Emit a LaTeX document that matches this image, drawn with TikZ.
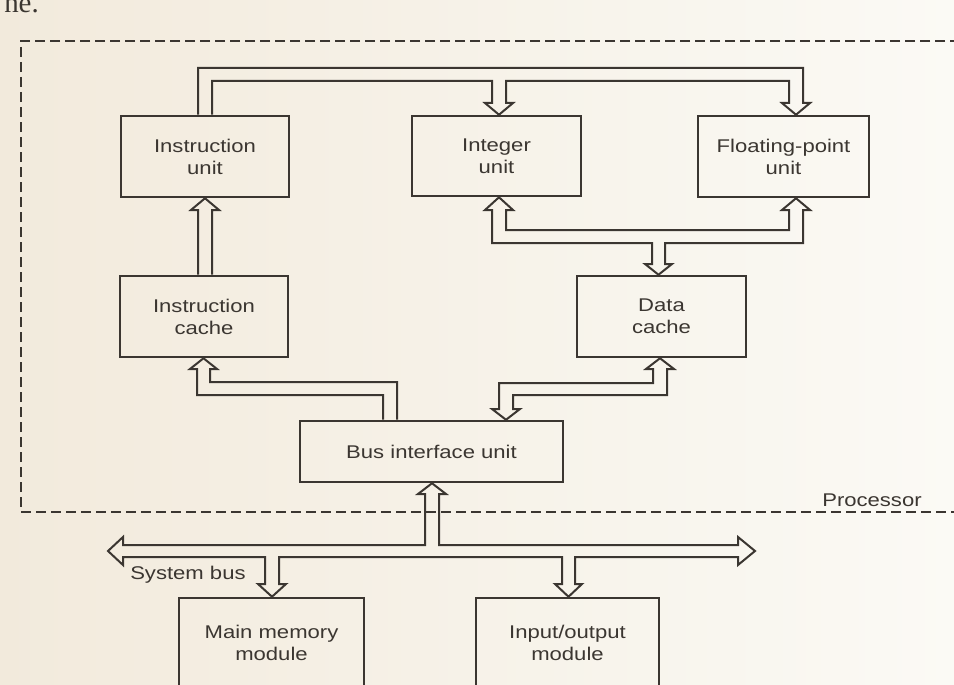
\documentclass[tikz,border=0pt]{standalone}
\usepackage{fontspec}
\setmainfont{Liberation Sans}
\newfontfamily\boxfont[FakeStretch=1.2]{Liberation Sans}
\newfontfamily\pageserif{Liberation Serif}
\usetikzlibrary{calc}
\definecolor{ink}{HTML}{3B3631}
\definecolor{paperL}{HTML}{F2EADC}
\definecolor{paperR}{HTML}{FBFAF5}
\begin{document}
\begin{tikzpicture}[x=0.75pt,y=-0.75pt,
  box/.style={draw=ink, line width=1.9pt, inner sep=0pt, align=center, text=ink,
              font=\boxfont\fontsize{13.8}{16.5}\selectfont},
  pipe/.style={draw=ink, line width=1.5pt, line join=miter},
  frame/.style={draw=ink, line width=1.5pt, dash pattern=on 7.5pt off 3.75pt},
  lbl/.style={text=ink, inner sep=0pt, font=\boxfont\fontsize{13.8}{16.5}\selectfont}]
\useasboundingbox (0,0) rectangle (954,685);
\clip (0,0) rectangle (954,685);
\shade[left color=paperL, right color=paperR] (0,0) rectangle (954,685);

% end of the preceding line of text on the page
\node[anchor=base west, inner sep=0pt, text=ink, font=\pageserif\fontsize{21.7}{21.7}\selectfont] (pagetext) at (4,13) {ne.};

% processor boundary
\draw[frame] (960,41) -- (21,41) -- (21,512) -- (960,512);
\node[lbl, anchor=west] (proc) at (822,500) {Processor};

% functional units
\node[box, minimum width=168*0.75pt, minimum height=81*0.75pt] (iu)  at (205,156.5) {Instruction\\unit};
\node[box, minimum width=169*0.75pt, minimum height=80*0.75pt] (int) at (496.5,156) {Integer\\unit};
\node[box, minimum width=171*0.75pt, minimum height=81*0.75pt] (fp)  at (783.5,156.5) {Floating-point\\unit};
\node[box, minimum width=168*0.75pt, minimum height=81*0.75pt] (ic)  at (204,316.5) {Instruction\\cache};
\node[box, minimum width=169*0.75pt, minimum height=81*0.75pt] (dc)  at (661.5,316.5) {Data\\cache};
\node[box, minimum width=263*0.75pt, minimum height=61*0.75pt] (biu) at (431.5,451.5) {Bus interface unit};
\node[box, minimum width=185*0.75pt, minimum height=90*0.75pt] (mm)  at (271.5,643) {Main memory\\module};
\node[box, minimum width=183*0.75pt, minimum height=90*0.75pt] (io)  at (567.5,643) {Input/output\\module};

% instruction unit -> integer and floating-point units
\draw[pipe] ($(iu.north)+(-7,0)$) |- (803,68) -- (803,103) -- (810,103) -- ($(fp.north)+(12.5,0)$)
  -- (782,103) -- (789,103) -- (789,81) -- (506,81) -- (506,103) -- (513,103)
  -- ($(int.north)+(2.5,0)$) -- (485,103) -- (492,103) -- (492,81) -| ($(iu.north)+(7,0)$);

% instruction cache -> instruction unit
\draw[pipe] ($(ic.north)+(-6,0)$) -- (198,210) -- (191,210) -- (iu.south) -- (219,210) -- (212,210)
  -- ($(ic.north)+(8,0)$);

% integer / floating-point units <-> data cache
\draw[pipe] (506,210) -- (513,210) -- ($(int.south)+(2.5,0)$) -- (485,210) -- (492,210) -- (492,243)
  -- (652,243) -- (652,264) -- (645,264) -- ($(dc.north)+(-3,0)$) -- (672,264) -- (665,264)
  -- (665,243) -- (803,243) -- (803,210) -- (810,210) -- ($(fp.south)+(12.5,0)$) -- (782,210)
  -- (789,210) -- (789,230) -- (506,230) -- cycle;

% bus interface unit -> instruction cache
\draw[pipe] ($(biu.north)+(-48.5,0)$) -- (383,395) -- (197,395) -- (197,369) -- (190,369)
  -- ($(ic.south)+(-0.5,0)$) -- (217,369) -- (210,369) -- (210,382) -| ($(biu.north)+(-34.5,0)$);

% data cache <-> bus interface unit
\draw[pipe] (667,369) -- (674,369) -- ($(dc.south)+(-1.5,0)$) -- (646,369) -- (653,369) -- (653,383)
  -- (499,383) -- (499,409) -- (492,409) -- ($(biu.north)+(74.5,0)$) -- (520,409) -- (513,409)
  -- (513,395) -- (667,395) -- cycle;

% system bus
\coordinate (sbL) at (108,551);
\coordinate (sbR) at (755,551);
\draw[pipe] (425,494) -- (418,494) -- ($(biu.south)+(0.5,0)$) -- (446,494) -- (439,494) -- (439,545)
  -- (738,545) -- (738,537) -- (sbR) -- (738,565) -- (738,557) -- (575,557) -- (575,584)
  -- (582,584) -- ($(io.north)+(1,0)$) -- (555,584) -- (562,584) -- (562,557) -- (279,557)
  -- (279,584) -- (286,584) -- ($(mm.north)+(0.5,0)$) -- (258,584) -- (265,584) -- (265,557)
  -- (123,557) -- (123,565) -- (sbL) -- (123,537) -- (123,545) -- (425,545) -- cycle;
\node[lbl, anchor=west] (sysbus) at (130,575) {System bus};

\end{tikzpicture}
\end{document}
